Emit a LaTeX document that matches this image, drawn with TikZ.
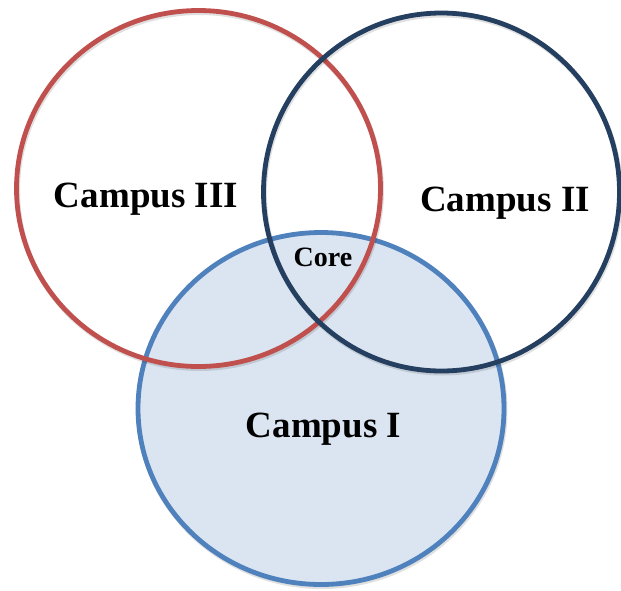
\documentclass[tikz,border=0pt]{standalone}
\usepackage{fontspec}
\setmainfont{Liberation Serif}
\definecolor{cred}{HTML}{C0504D}
\definecolor{cnavy}{HTML}{243F60}
\definecolor{cblue}{HTML}{4F81BD}
\definecolor{cfill}{HTML}{DBE5F1}
\begin{document}
\begin{tikzpicture}[x=1pt,y=-1pt,
  ring/.style={line width=4.8pt},
  shade/.style={line width=5pt, draw=black, draw opacity=0.12},
  big/.style={font=\bfseries\fontsize{37}{40}\selectfont, anchor=base, inner sep=0pt},
  small/.style={font=\bfseries\fontsize{28}{30}\selectfont, anchor=base, inner sep=0pt}]
\useasboundingbox (0,0) rectangle (621,590);
\path[shade] (322,410.5) ellipse [x radius=183, y radius=176];
\path[ring, draw=cblue, fill=cfill] (321,408.5) ellipse [x radius=183, y radius=176];
\path[shade] (199.5,190.5) ellipse [x radius=182, y radius=178];
\path[ring, draw=cred] (198.5,188.5) ellipse [x radius=182, y radius=178];
\path[shade] (442.5,194) ellipse [x radius=178, y radius=179];
\path[ring, draw=cnavy] (441.5,192) ellipse [x radius=178, y radius=179];
\node[big] (c3) at (146,207) {Campus III};
\node[big] (c2) at (505,211) {Campus II};
\node[big] (c1) at (323.5,437) {Campus I};
\node[small] (core) at (323,266) {Core};
\end{tikzpicture}
\end{document}
